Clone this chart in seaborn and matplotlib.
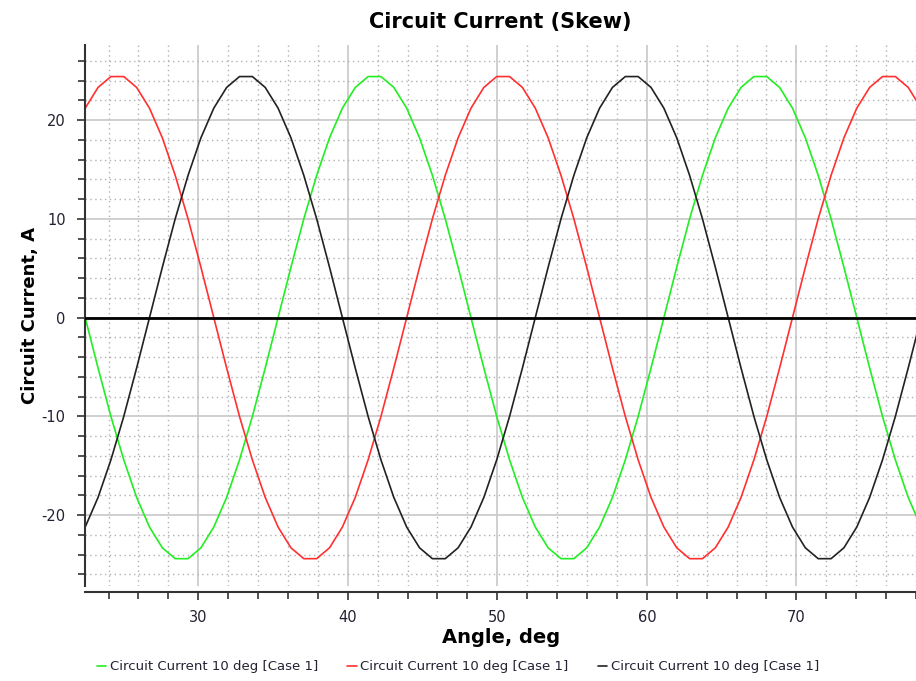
import numpy as np
import pandas as pd
import matplotlib
matplotlib.use("Agg")
import matplotlib.pyplot as plt
import seaborn as sns
from matplotlib.ticker import MultipleLocator

# -----------------------------
# Data
# -----------------------------
angle = [22.44, 23.30, 24.16, 25.02, 25.88, 26.74, 27.60, 28.46, 29.32, 30.18,
         31.04, 31.90, 32.76, 33.62, 34.48, 35.34, 36.20, 37.06, 37.92, 38.78,
         39.64, 40.50, 41.36, 42.22, 43.08, 43.94, 44.80, 45.66, 46.52, 47.38,
         48.24, 49.10, 49.96, 50.82, 51.68, 52.54, 53.40, 54.26, 55.12, 55.98,
         56.84, 57.70, 58.56, 59.42, 60.28, 61.14, 62.00, 62.86, 63.72, 64.58,
         65.44, 66.30, 67.16, 68.02, 68.88, 69.74, 70.60, 71.46, 72.32, 73.18,
         74.04, 74.90, 75.76, 76.62, 77.48, 78.34]

green_current = [0.0, -5.1, -10.0, -14.4, -18.2, -21.2, -23.3, -24.4, -24.4, -23.3,
                 -21.2, -18.2, -14.4, -10.0, -5.1,
                 0.0, 5.1, 10.0, 14.4, 18.2, 21.2, 23.3, 24.4, 24.4, 23.3,
                 21.2, 18.2, 14.4, 10.0, 5.1, 0.0, -5.1, -10.0, -14.4, -18.2,
                 -21.2, -23.3, -24.4, -24.4, -23.3, -21.2, -18.2, -14.4, -10.0, -5.1,
                 0.0, 5.1, 10.0, 14.4, 18.2, 21.2, 23.3, 24.4, 24.4, 23.3,
                 21.2, 18.2, 14.4, 10.0, 5.1, 0.0, -5.1, -10.0, -14.4, -18.2, -21.2]

red_current = [21.2, 23.3, 24.4, 24.4, 23.3, 21.2, 18.2, 14.4, 10.0, 5.1,
               0.0, -5.1, -10.0, -14.4, -18.2, -21.2, -23.3, -24.4, -24.4, -23.3,
               -21.2, -18.2, -14.4, -10.0, -5.1,
               0.0, 5.1, 10.0, 14.4, 18.2, 21.2, 23.3, 24.4, 24.4, 23.3,
               21.2, 18.2, 14.4, 10.0, 5.1, 0.0, -5.1, -10.0, -14.4, -18.2,
               -21.2, -23.3, -24.4, -24.4, -23.3, -21.2, -18.2, -14.4, -10.0, -5.1,
               0.0, 5.1, 10.0, 14.4, 18.2, 21.2, 23.3, 24.4, 24.4, 23.3, 21.2]

black_current = [-21.2, -18.2, -14.4, -10.0, -5.1,
                 0.0, 5.1, 10.0, 14.4, 18.2, 21.2, 23.3, 24.4, 24.4, 23.3,
                 21.2, 18.2, 14.4, 10.0, 5.1, 0.0, -5.1, -10.0, -14.4, -18.2,
                 -21.2, -23.3, -24.4, -24.4, -23.3, -21.2, -18.2, -14.4, -10.0, -5.1,
                 0.0, 5.1, 10.0, 14.4, 18.2, 21.2, 23.3, 24.4, 24.4, 23.3,
                 21.2, 18.2, 14.4, 10.0, 5.1, 0.0, -5.1, -10.0, -14.4, -18.2,
                 -21.2, -23.3, -24.4, -24.4, -23.3, -21.2, -18.2, -14.4, -10.0, -5.1,
                 0.0]

series_label = "Circuit Current 10 deg [Case 1]"
series_colors = ["#22ee22", "#ff3030", "#222222"]

df = pd.DataFrame({"angle": angle, "green": green_current,
                   "red": red_current, "black": black_current})

# -----------------------------
# Plot
# -----------------------------
sns.set_theme(style="white")
plt.rcParams['font.family'] = ['DejaVu Sans']
plt.rcParams['axes.unicode_minus'] = False

fig = plt.figure(figsize=(9.16, 6.81), dpi=100)
ax = fig.add_axes([0.093, 0.139, 0.907, 0.795])

for col, c in zip(["green", "red", "black"], series_colors):
    sns.lineplot(data=df, x="angle", y=col, ax=ax, color=c, linewidth=1.2,
                 label=series_label, legend=False)

ax.axhline(0, color="black", linewidth=2, zorder=3)

ax.set_xlim(22.44, 78.0)
ax.set_ylim(-27.2, 27.6)

ax.xaxis.set_major_locator(MultipleLocator(10))
ax.xaxis.set_minor_locator(MultipleLocator(2))
ax.yaxis.set_major_locator(MultipleLocator(10))
ax.yaxis.set_minor_locator(MultipleLocator(2))

ax.grid(which="major", color="#c8c8c8", linewidth=1.2, linestyle="-")
ax.grid(which="minor", color="#b0b0b0", linewidth=1.0, linestyle=(0, (1, 2.5)))
ax.set_axisbelow(True)

for s in ["top", "right"]:
    ax.spines[s].set_visible(False)
ax.spines["left"].set_color("#333333")
ax.spines["left"].set_linewidth(1.5)
ax.spines["bottom"].set_color("#333333")
ax.spines["bottom"].set_linewidth(1.5)
ax.spines["bottom"].set_position(("outward", 4))

ax.tick_params(which="both", direction="out", color="#333333", width=1.2,
               bottom=True, left=True)
ax.tick_params(which="major", length=6, labelsize=10.5, labelcolor="#222233")
ax.tick_params(which="minor", length=5)
ax.tick_params(axis="x", pad=7)
ax.tick_params(axis="y", pad=8)

ax.set_title("Circuit Current (Skew)", fontsize=15, fontweight="bold", pad=12,
             color="black")
ax.set_xlabel("Angle, deg", fontsize=14, fontweight="bold", labelpad=2,
              color="black")
ax.set_ylabel("Circuit Current, A", fontsize=13, fontweight="bold", labelpad=2,
              color="black")

handles, labels = ax.get_legend_handles_labels()
fig.legend(handles, labels, loc="lower center", ncol=3, frameon=False,
           fontsize=9.5, handlelength=0.7, handletextpad=0.3,
           columnspacing=2.2, bbox_to_anchor=(0.5, -0.006),
           labelcolor="#222233")

plt.savefig("out.png", dpi=100)
